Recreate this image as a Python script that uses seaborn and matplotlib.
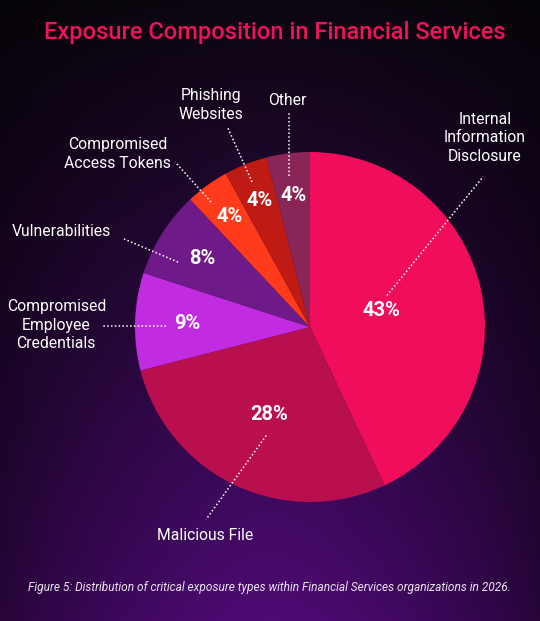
import numpy as np
import matplotlib
matplotlib.use("Agg")
import matplotlib.pyplot as plt
import seaborn as sns

categories = ["Internal\nInformation\nDisclosure", "Malicious File",
              "Compromised\nEmployee\nCredentials", "Vulnerabilities",
              "Compromised\nAccess Tokens", "Phishing\nWebsites", "Other"]
values = [43, 28, 9, 8, 4, 4, 4]
pct_labels = [f"{v}%" for v in values]
colors = ["#f00d5c", "#b90f4f", "#c12ce0", "#6e1b89", "#ff3b1c", "#bf1a14", "#8a2657"]

sns.set_theme(style="white")
plt.rcParams['font.family'] = ['Roboto', 'DejaVu Sans']

fig = plt.figure(figsize=(5.4, 6.21), dpi=100)

# background gradient
bg = fig.add_axes([0, 0, 1, 1])
H, W = 300, 200
t = np.linspace(0, 1, H)[:, None]
xx = np.linspace(-1, 1, W)[None, :]
top = np.array([0.045, 0.025, 0.06])
bot = np.array([0.30, 0.04, 0.45])
tt = (t ** 1.0)[..., None]
img = top * (1 - tt) + bot * tt
vig = (1 - 0.5 * np.abs(xx) ** 1.6)[..., None]
img = np.clip(img * vig, 0, 1)
bg.imshow(img, aspect="auto", extent=[0, 1, 0, 1], interpolation="bilinear")
bg.set_axis_off()

W_px, H_px = 540, 621
cx, cy, r = 310, 327, 175
ax = fig.add_axes([(cx - r) / W_px, 1 - (cy + r) / H_px, 2 * r / W_px, 2 * r / H_px])
ax.set_facecolor("none")
wedges, _ = ax.pie(values, colors=colors, startangle=90, counterclock=False,
                   radius=1, wedgeprops=dict(linewidth=0))
ax.set_xlim(-1, 1)
ax.set_ylim(-1, 1)
ax.set_aspect("equal")
ax.set_axis_off()

# percentage labels
pct_r = [0.42, 0.55, 0.70, 0.73, 0.78, 0.78, 0.76]
for w, lab, rr in zip(wedges, pct_labels, pct_r):
    ang = np.deg2rad((w.theta1 + w.theta2) / 2)
    ax.text(rr * np.cos(ang), rr * np.sin(ang), lab, ha="center", va="center",
            color="white", fontsize=14.5, fontweight="bold")

# outside labels with dotted leaders
text_pos = [(1.00, 1.08), (-0.60, -1.19), (-1.45, 0.01), (-1.42, 0.543),
            (-1.10, 0.99), (-0.566, 1.27), (-0.13, 1.297)]
leaders = [((0.44, 0.18), (0.99, 0.86)), ((-0.25, -0.62), (-0.594, -1.10)),
           ((-0.823, 0.006), (-1.183, 0.006)), ((-0.754, 0.371), (-1.063, 0.503)),
           ((-0.566, 0.714), (-0.771, 0.943)), ((-0.331, 0.829), (-0.469, 1.137)),
           ((-0.12, 0.863), (-0.12, 1.223))]
for lab, (tx, ty), (p0, p1) in zip(categories, text_pos, leaders):
    ax.text(tx, ty, lab, ha="center", va="center", color="white",
            fontsize=11.3, linespacing=1.3, clip_on=False)
    ax.plot([p0[0], p1[0]], [p0[1], p1[1]], color="white", lw=1.1,
            ls=(0, (1, 1.5)), clip_on=False)

fig.text(275 / W_px, 1 - 32 / H_px, "Exposure Composition in Financial Services",
         ha="center", va="center", color="#f0125c", fontsize=17, fontweight="medium")
fig.text(269 / W_px, 1 - 587 / H_px,
         "Figure 5: Distribution of critical exposure types within Financial Services organizations in 2026.",
         ha="center", va="center", color="#ece4f2", fontsize=8.6, style="italic")

fig.savefig("out.png", dpi=100)
